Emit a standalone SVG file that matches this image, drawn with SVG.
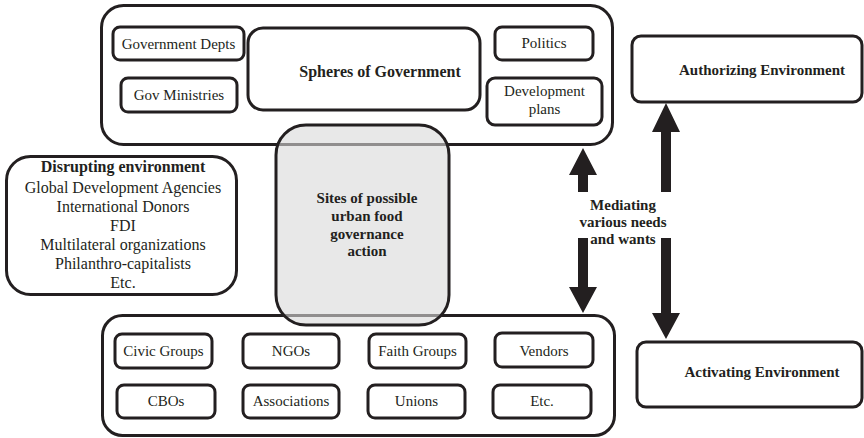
<svg xmlns="http://www.w3.org/2000/svg" width="864" height="438" viewBox="0 0 864 438">
<style>
.box{fill:#fff;stroke:#231f20;stroke-width:3}
.ibox{fill:#fff;stroke:#231f20;stroke-width:3}
text{font-family:'Liberation Serif','DejaVu Serif',serif;font-size:15px;fill:#231f20;text-anchor:middle}
.b{font-weight:bold}
.l{font-size:16px}
.arr{fill:#231f20}
</style>
<rect width="864" height="438" fill="#fff"/>
<g id="government">
<rect class="box" x="101.5" y="5.5" width="511" height="139" rx="22"/>
<g id="gov-depts"><rect class="ibox" x="113" y="27" width="131" height="33" rx="7"/><text x="178.5" y="49">Government Depts</text></g>
<g id="gov-ministries"><rect class="ibox" x="121" y="78" width="116" height="34" rx="7"/><text x="179" y="100">Gov Ministries</text></g>
<g id="spheres"><rect class="ibox" x="248" y="28" width="232" height="82" rx="15"/><text class="b l" x="380" y="77">Spheres of Government</text></g>
<g id="politics"><rect class="ibox" x="495" y="27" width="98" height="33" rx="7"/><text x="544" y="48">Politics</text></g>
<g id="dev-plans"><rect class="ibox" x="487" y="78" width="115" height="47" rx="8"/><text x="544.5" y="96">Development</text><text x="544.5" y="114">plans</text></g>
</g>
<g id="civil">
<rect class="box" x="102.5" y="315.5" width="512" height="120" rx="20"/>
<g id="civic"><rect class="ibox" x="115" y="334" width="97" height="34" rx="7"/><text x="163.5" y="356">Civic Groups</text></g>
<g id="ngos"><rect class="ibox" x="243" y="334" width="96" height="34" rx="7"/><text x="291" y="356">NGOs</text></g>
<g id="faith"><rect class="ibox" x="369" y="334" width="97" height="34" rx="7"/><text x="417.5" y="356">Faith Groups</text></g>
<g id="vendors"><rect class="ibox" x="495" y="333" width="98" height="34" rx="7"/><text x="544" y="356">Vendors</text></g>
<g id="cbos"><rect class="ibox" x="117" y="385" width="98" height="33" rx="7"/><text x="166" y="406">CBOs</text></g>
<g id="associations"><rect class="ibox" x="243" y="385" width="96" height="33" rx="7"/><text x="291" y="406">Associations</text></g>
<g id="unions"><rect class="ibox" x="368" y="385" width="97" height="33" rx="7"/><text x="416.5" y="406">Unions</text></g>
<g id="etc"><rect class="ibox" x="493" y="385" width="98" height="33" rx="7"/><text x="542" y="406">Etc.</text></g>
</g>
<g id="sites">
<rect x="276" y="125" width="173" height="200" rx="30" fill="#d9d9d9" fill-opacity="0.6" stroke="#231f20" stroke-width="3"/>
<text class="b" x="367" y="203">Sites of possible</text>
<text class="b" x="367" y="221">urban food</text>
<text class="b" x="367" y="239">governance</text>
<text class="b" x="367" y="256">action</text>
</g>
<g id="disrupting">
<rect class="box" x="6.5" y="156.5" width="230" height="138" rx="24"/>
<text class="b l" x="123" y="172">Disrupting environment</text>
<text class="l" x="123" y="193">Global Development Agencies</text>
<text class="l" x="123" y="212">International Donors</text>
<text class="l" x="123" y="231">FDI</text>
<text class="l" x="123" y="250">Multilateral organizations</text>
<text class="l" x="123" y="269">Philanthro-capitalists</text>
<text class="l" x="123" y="288">Etc.</text>
</g>
<g id="authorizing">
<rect class="box" x="632" y="36" width="230" height="66" rx="9"/>
<text class="b" x="762" y="75">Authorizing Environment</text>
</g>
<g id="activating">
<rect class="box" x="637" y="342" width="225" height="65" rx="9"/>
<text class="b" x="762" y="377">Activating Environment</text>
</g>
<g id="connectors">
<polygon class="arr" points="583,148 597,175 588,175 588,192 578,192 578,175 569,175"/>
<polygon class="arr" points="578,238 588,238 588,287 597,287 583,313 569,287 578,287"/>
<polygon class="arr" points="666,103 680,132 671,132 671,192 661,192 661,132 652,132"/>
<polygon class="arr" points="661,238 671,238 671,313 680,313 666,339 652,313 661,313"/>
<text class="b" x="623" y="210">Mediating</text>
<text class="b" x="623" y="227">various needs</text>
<text class="b" x="623" y="244">and wants</text>
</g>
</svg>
